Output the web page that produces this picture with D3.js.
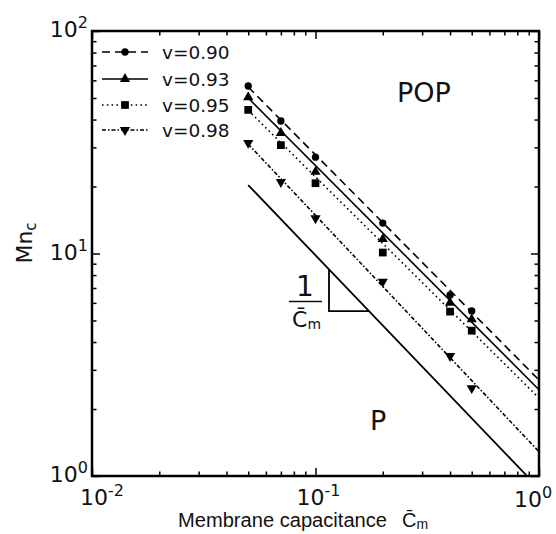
<!DOCTYPE html>
<html>
<head>
<meta charset="utf-8">
<script src="https://cdn.jsdelivr.net/npm/d3@7"></script>
<style>
  html, body { margin: 0; padding: 0; background: #fff; }
  svg { display: block; }
</style>
</head>
<body>
<svg id="chart" width="556" height="534"></svg>
<script>
// ---- data ----
const capacitance = [0.05, 0.07, 0.1, 0.2, 0.4, 0.5];
const mnV090 = [56.6, 39.4, 27.1, 13.7, 6.51, 5.52];
const mnV093 = [50.4, 34.8, 23.3, 11.6, 6.01, 5.06];
const mnV095 = [44.2, 30.7, 20.7, 10.1, 5.48, 4.50];
const mnV098 = [31.4, 20.96, 14.4, 7.47, 3.46, 2.48];
const seriesLabels = ["v=0.90", "v=0.93", "v=0.95", "v=0.98"];
const fitX = [0.05, 1];
const fitV090 = [56, 2.70];
const fitV093 = [50, 2.44];
const fitV095 = [44, 2.24];
const fitV098 = [31, 1.286];
const boundaryX = [0.05, 0.884];
const boundaryY = [20.3, 1.0];
const slopeTriX = [0.1149, 0.1149, 0.1735];
const slopeTriY = [8.46, 5.51, 5.51];
const xMajor = [0.01, 0.1, 1];
const xMajorExp = ["-2", "-1", "0"];
const yMajor = [1, 10, 100];
const yMajorExp = ["0", "1", "2"];

// ---- layout ----
const L = 92, R = 539, T = 31, B = 476;
const svg = d3.select("#chart");
const x = d3.scaleLog().domain([0.01, 1]).range([L, R]);
const y = d3.scaleLog().domain([1, 100]).range([B, T]);
const font = "'DejaVu Sans', sans-serif";

function minors(lo, hi) {
  const out = [];
  for (let e = lo; e < hi; e++) for (let k = 2; k <= 9; k++) out.push(k * Math.pow(10, e));
  return out;
}
const xMinor = minors(-2, 0);
const yMinor = minors(0, 2);

// ---- axes ticks (inward) ----
function drawAxis(gen, tr, vals, size) {
  const g = svg.append("g").attr("transform", tr)
    .call(gen.tickValues(vals).tickSize(-size).tickFormat(""));
  g.select(".domain").remove();
  g.selectAll(".tick line").attr("stroke", "#000").attr("stroke-width", 1.5);
}
[[xMajor, 8], [xMinor, 4.5]].forEach(([v, s]) => {
  drawAxis(d3.axisBottom(x), `translate(0,${B})`, v, s);
  drawAxis(d3.axisTop(x), `translate(0,${T})`, v, s);
});
[[yMajor, 8], [yMinor, 4.5]].forEach(([v, s]) => {
  drawAxis(d3.axisLeft(y), `translate(${L},0)`, v, s);
  drawAxis(d3.axisRight(y), `translate(${R},0)`, v, s);
});

svg.append("rect").attr("x", L).attr("y", T).attr("width", R - L).attr("height", B - T)
  .attr("fill", "none").attr("stroke", "#000").attr("stroke-width", 2.5);

// tick labels
const xLabelShift = [10, 3, -6];
xMajor.forEach((v, i) => {
  const t = svg.append("text").attr("x", x(v) + xLabelShift[i]).attr("y", 505 + (i === 2 ? 2 : 0))
    .attr("text-anchor", "middle").attr("font-family", font).attr("font-size", 22).attr("fill", "#111");
  t.append("tspan").text("10");
  t.append("tspan").attr("dy", -9).attr("font-size", 16).text(xMajorExp[i]);
});
yMajor.forEach((v, i) => {
  const t = svg.append("text").attr("x", 88).attr("y", y(v) + 6)
    .attr("text-anchor", "end").attr("font-family", font).attr("font-size", 22).attr("fill", "#111");
  t.append("tspan").text("10");
  t.append("tspan").attr("dy", -9).attr("font-size", 16).text(yMajorExp[i]);
});

// axis titles
const xt = svg.append("text").attr("font-family", "'Liberation Sans', Arial, sans-serif")
  .attr("font-size", 20).attr("fill", "#111");
xt.append("tspan").attr("x", 178).attr("y", 527).attr("textLength", 209)
  .attr("lengthAdjust", "spacingAndGlyphs").text("Membrane capacitance");
xt.append("tspan").attr("x", 402).attr("y", 527).text("C\u0304");
xt.append("tspan").attr("dy", 2).attr("font-size", 14).text("m");

const yt = svg.append("text").attr("transform", "translate(32,243) rotate(-90)")
  .attr("text-anchor", "middle").attr("font-family", font).attr("font-size", 22).attr("fill", "#111");
yt.append("tspan").text("Mn");
yt.append("tspan").attr("dy", 4).attr("font-size", 15).text("c");

// ---- plot contents ----
const plot = svg.append("g");
const line = d3.line().x(d => x(d[0])).y(d => y(d[1]));

const series = [
  { vals: mnV090, fit: fitV090, dash: "8,5", sym: d3.symbolCircle, size: 42, rot: 0 },
  { vals: mnV093, fit: fitV093, dash: null, sym: d3.symbolTriangle, size: 45, rot: 0 },
  { vals: mnV095, fit: fitV095, dash: "1.6,3.2", sym: d3.symbolSquare, size: 60, rot: 0 },
  { vals: mnV098, fit: fitV098, dash: "4,2,1.5,2", sym: d3.symbolTriangle, size: 45, rot: 180 }
];

series.forEach(s => {
  plot.append("path").datum(fitX.map((xv, i) => [xv, s.fit[i]]))
    .attr("d", line).attr("fill", "none").attr("stroke", "#000").attr("stroke-width", 1.6)
    .attr("stroke-dasharray", s.dash);
  plot.selectAll(null).data(capacitance.map((c, i) => [c, s.vals[i]])).enter()
    .append("path")
    .attr("d", d3.symbol().type(s.sym).size(s.size))
    .attr("transform", d => `translate(${x(d[0])},${y(d[1])}) rotate(${s.rot})`)
    .attr("fill", "#000");
});

// phase boundary
plot.append("path").datum(boundaryX.map((xv, i) => [xv, boundaryY[i]]))
  .attr("d", line).attr("fill", "none").attr("stroke", "#000").attr("stroke-width", 1.8);

// slope triangle
plot.append("path").datum(slopeTriX.map((xv, i) => [xv, slopeTriY[i]]))
  .attr("d", line).attr("fill", "none").attr("stroke", "#000").attr("stroke-width", 1.8);

// slope label
svg.append("text").attr("x", 305).attr("y", 296).attr("text-anchor", "middle")
  .attr("font-family", font).attr("font-size", 28).attr("fill", "#111").text("1");
svg.append("line").attr("x1", 289).attr("x2", 322).attr("y1", 301.5).attr("y2", 301.5)
  .attr("stroke", "#111").attr("stroke-width", 1.5);
const fr = svg.append("text").attr("x", 292).attr("y", 327)
  .attr("font-family", font).attr("font-size", 22).attr("fill", "#111");
fr.append("tspan").text("C\u0304");
fr.append("tspan").attr("dy", 2).attr("font-size", 14).text("m");

// region labels
svg.append("text").attr("x", 397).attr("y", 102).attr("font-family", font)
  .attr("font-size", 27).attr("fill", "#111").text("POP");
svg.append("text").attr("x", 370).attr("y", 430).attr("font-family", font)
  .attr("font-size", 27).attr("fill", "#111").text("P");

// ---- legend ----
const legY = [52, 79, 105, 130];
series.forEach((s, i) => {
  const g = svg.append("g");
  g.append("line").attr("x1", 102).attr("x2", 148).attr("y1", legY[i]).attr("y2", legY[i])
    .attr("stroke", "#000").attr("stroke-width", 1.6).attr("stroke-dasharray", s.dash);
  g.append("path").attr("d", d3.symbol().type(s.sym).size(s.size))
    .attr("transform", `translate(125,${legY[i]}) rotate(${s.rot})`).attr("fill", "#000");
  g.append("text").attr("x", 162).attr("y", legY[i] + 7).attr("font-family", font)
    .attr("font-size", 18.5).attr("fill", "#111").text(seriesLabels[i]);
});
</script>
</body>
</html>
